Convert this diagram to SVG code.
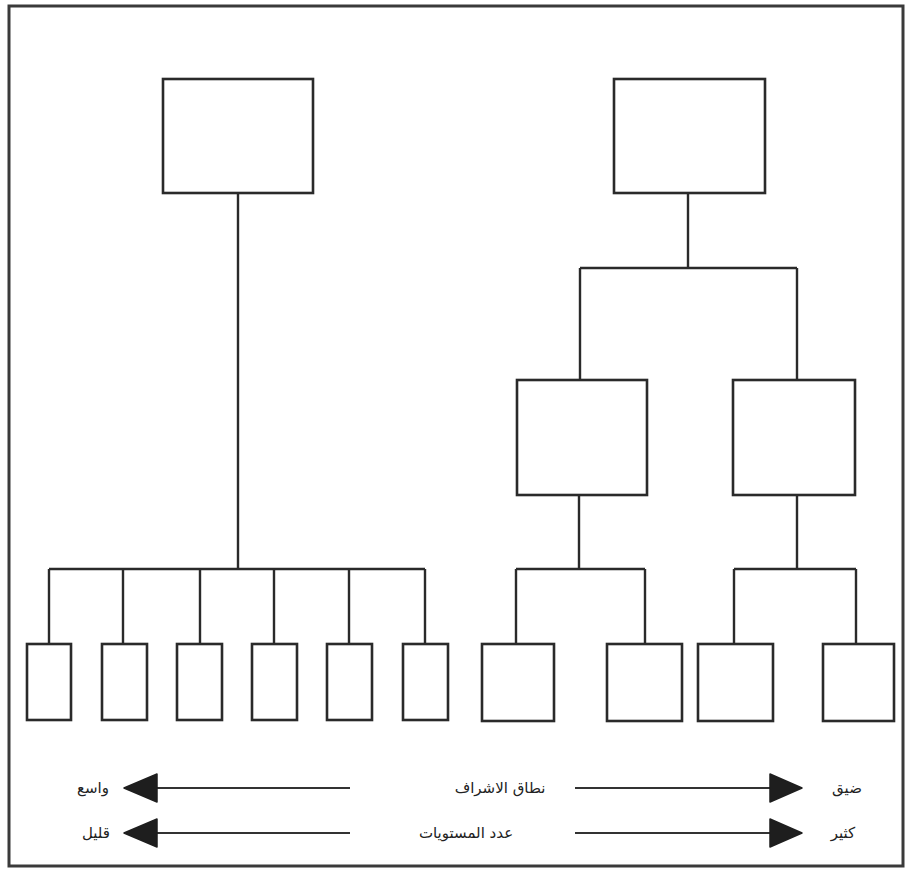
<svg xmlns="http://www.w3.org/2000/svg" width="907" height="871" viewBox="0 0 907 871">
  <style>
    .box { fill: #ffffff; stroke: #2a2a2a; stroke-width: 2.6; }
    .wire { fill: none; stroke: #2a2a2a; stroke-width: 2.4; }
    .axis { fill: none; stroke: #333333; stroke-width: 2; }
    .head { fill: #1e1e1e; stroke: #1e1e1e; stroke-width: 1.5; stroke-linejoin: round; }
    .lbl { font-family: "DejaVu Sans", "Noto Sans", sans-serif; font-size: 15px; fill: #222222; text-anchor: middle; }
  </style>
  <rect x="0" y="0" width="907" height="871" fill="#ffffff"/>
  <!-- outer frame -->
  <rect x="9" y="6" width="894" height="860" fill="none" stroke="#3a3a3a" stroke-width="3"/>

  <!-- connectors -->
  <g id="connectors" class="wire">
    <!-- flat structure -->
    <path d="M238 193 V569"/>
    <path d="M49 569 H425"/>
    <path d="M49 569 V644 M123 569 V644 M200 569 V644 M274 569 V644 M349 569 V644 M425 569 V644"/>
    <!-- tall structure -->
    <path d="M688 193 V268"/>
    <path d="M580 268 H797"/>
    <path d="M580 268 V380 M797 268 V380"/>
    <path d="M579 495 V569 M516 569 H645 M516 569 V644 M645 569 V644"/>
    <path d="M797 495 V569 M734 569 H856 M734 569 V644 M856 569 V644"/>
  </g>

  <!-- flat structure: one manager, six subordinates -->
  <g id="flat-top"><rect class="box" x="163" y="79" width="150" height="114"/></g>
  <g id="flat-1"><rect class="box" x="27" y="644" width="44" height="76"/></g>
  <g id="flat-2"><rect class="box" x="102" y="644" width="45" height="76"/></g>
  <g id="flat-3"><rect class="box" x="177" y="644" width="45" height="76"/></g>
  <g id="flat-4"><rect class="box" x="252" y="644" width="45" height="76"/></g>
  <g id="flat-5"><rect class="box" x="327" y="644" width="45" height="76"/></g>
  <g id="flat-6"><rect class="box" x="403" y="644" width="45" height="76"/></g>

  <!-- tall structure: three levels -->
  <g id="tall-top"><rect class="box" x="614" y="79" width="151" height="114"/></g>
  <g id="tall-mid-left"><rect class="box" x="517" y="380" width="130" height="115"/></g>
  <g id="tall-mid-right"><rect class="box" x="733" y="380" width="122" height="115"/></g>
  <g id="tall-1"><rect class="box" x="482" y="644" width="72" height="77"/></g>
  <g id="tall-2"><rect class="box" x="607" y="644" width="75" height="77"/></g>
  <g id="tall-3"><rect class="box" x="698" y="644" width="75" height="77"/></g>
  <g id="tall-4"><rect class="box" x="823" y="644" width="71" height="77"/></g>

  <!-- scale arrows -->
  <g id="legend">
    <path class="axis" d="M155 788 H350 M575 788 H772"/>
    <path class="axis" d="M155 833 H350 M575 833 H772"/>
    <polygon class="head" points="124,788 157,774 157,802"/>
    <polygon class="head" points="802,788 770,774 770,802"/>
    <polygon class="head" points="124,833 157,819 157,847"/>
    <polygon class="head" points="802,833 770,819 770,847"/>
    <text class="lbl" x="500" y="793" direction="rtl">نطاق الاشراف</text>
    <text class="lbl" x="466" y="838" direction="rtl">عدد المستويات</text>
    <text class="lbl" x="93" y="793" direction="rtl">واسع</text>
    <text class="lbl" x="96" y="838" direction="rtl">قليل</text>
    <text class="lbl" x="847" y="793" direction="rtl">ضيق</text>
    <text class="lbl" x="843" y="838" direction="rtl">كثير</text>
  </g>
</svg>
